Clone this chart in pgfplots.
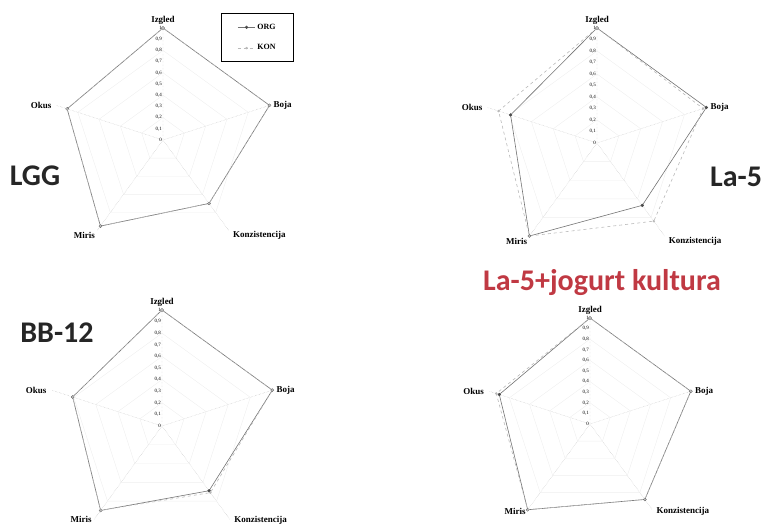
\documentclass[border=0pt]{standalone}
\usepackage{fontspec}
\setmainfont{Liberation Serif}
\newfontfamily\carlito{Carlito}
\usepackage{pgfplots}
\pgfplotsset{compat=1.18}
\usepgfplotslibrary{polar}
\definecolor{kultred}{RGB}{192,57,67}

% radar layout: Izgled top, then Okus, Miris, Konzistencija, Boja (counter-clockwise)
\pgfplotsset{
  radar/.style={
    scale only axis,
    anchor=center,
    xmin=90, xmax=450,
    ymin=0, ymax=1,
    xtick={90,162,234,306,378},
    xticklabels={{},{},{},{},{}},
    ytick={0,0.1,0.2,0.3,0.4,0.5,0.6,0.7,0.8,0.9,1},
    /pgf/number format/use comma,
    /pgf/number format/assume math mode=true,
    yticklabel style={font=\fontsize{5}{5}\selectfont, anchor=east, inner sep=1pt},
    axis line style={draw=none},
    major tick style={draw=none},
    xmajorgrids,
    ymajorgrids=false,
    grid style={gray!55, densely dotted},
    clip=false,
  },
  web/.style={gray!13, thin, forget plot},
  org/.style={gray!90!black, line width=0.6pt, mark=*, mark size=1.3pt,
    mark options={solid, fill=gray!60!black, draw=gray!60!black}},
  kon/.style={gray!55, line width=0.6pt, dashed, mark=*, mark size=0.9pt,
    mark options={solid, fill=gray!55, draw=gray!55}},
}
\tikzset{lab/.style={font=\fontsize{9}{9}\selectfont\bfseries, inner sep=2pt}}

\newcommand\webgrid{%
  \addplot[web] coordinates {(90,0.2) (162,0.2) (234,0.2) (306,0.2) (378,0.2) (450,0.2)};
  \addplot[web] coordinates {(90,0.4) (162,0.4) (234,0.4) (306,0.4) (378,0.4) (450,0.4)};
  \addplot[web] coordinates {(90,0.6) (162,0.6) (234,0.6) (306,0.6) (378,0.6) (450,0.6)};
  \addplot[web] coordinates {(90,0.8) (162,0.8) (234,0.8) (306,0.8) (378,0.8) (450,0.8)};
}
% #1: vertical shift of the two bottom labels
\newcommand\radarlabels[1][-5pt]{%
  \node[lab, anchor=south, yshift=1pt] at (axis cs:90,1) {Izgled};
  \node[lab, anchor=west, xshift=2pt] at (axis cs:378,1) {Boja};
  \node[lab, anchor=east, xshift=-3pt] at (axis cs:162,1) {Okus};
  \node[lab, anchor=east, yshift=#1] at (axis cs:234,1) {Miris};
  \node[lab, anchor=west, yshift=#1, xshift=2pt] at (axis cs:306,1) {Konzistencija};
}

\begin{document}
\begin{tikzpicture}[x=1pt,y=1pt]
\useasboundingbox (0,0) rectangle (763,529);

% LGG
\begin{polaraxis}[radar, at={(163pt,389pt)}, width=224pt,
  legend style={at={(0.76,1.065)}, anchor=north west, draw=black, line width=0.9pt,
    font=\fontsize{8}{8}\selectfont\bfseries, row sep=10pt,
    inner xsep=16pt, inner ysep=8pt},
  legend cell align=left]
\webgrid
\addplot[org] coordinates {(90,1) (162,0.9) (234,0.95) (306,0.7) (378,1) (450,1)};
\addlegendentry{ORG}
\addplot[kon] coordinates {(90,1) (162,0.9) (234,0.95) (306,0.7) (378,1) (450,1)};
\addlegendentry{KON}
\radarlabels
\end{polaraxis}

% La-5
\begin{polaraxis}[radar, at={(597pt,386pt)}, width=230pt]
\webgrid
\addplot[org] coordinates {(90,1) (162,0.79) (234,1) (306,0.67) (378,1) (450,1)};
\addplot[kon] coordinates {(90,1) (162,0.9) (234,1) (306,0.84) (378,0.97) (450,1)};
\radarlabels
\end{polaraxis}

% BB-12
\begin{polaraxis}[radar, at={(162pt,103pt)}, width=232pt]
\webgrid
\addplot[org] coordinates {(90,1) (162,0.81) (234,0.9) (306,0.69) (378,1) (450,1)};
\addplot[kon] coordinates {(90,1) (162,0.81) (234,0.9) (306,0.71) (378,1) (450,1)};
\radarlabels[0pt]
\end{polaraxis}

% La-5 + jogurt kultura
\begin{polaraxis}[radar, at={(590pt,105pt)}, width=212pt]
\webgrid
\addplot[org] coordinates {(90,1) (162,0.9) (234,1) (306,0.88) (378,1) (450,1)};
\addplot[kon] coordinates {(90,1) (162,0.93) (234,1) (306,0.88) (378,1) (450,1)};
\radarlabels[-2pt]
\end{polaraxis}

\node[font=\carlito\bfseries\fontsize{30}{30}\selectfont, text=black!85] at (35,353) {LGG};
\node[font=\carlito\bfseries\fontsize{30}{30}\selectfont, text=black!85] at (736,352) {La-5};
\node[font=\carlito\bfseries\fontsize{30}{30}\selectfont, text=black!85] at (57,196) {BB-12};
\node[font=\carlito\bfseries\fontsize{30}{30}\selectfont, text=kultred, anchor=base] at (602,238) {La-5+jogurt kultura};
\end{tikzpicture}
\end{document}
